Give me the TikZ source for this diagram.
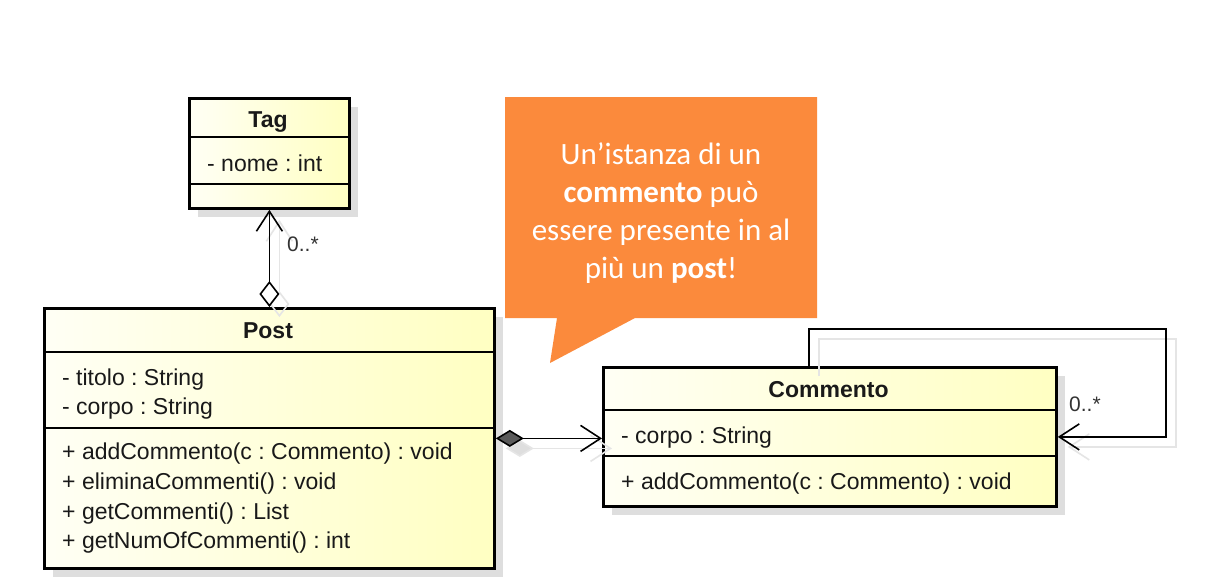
\documentclass[tikz,border=0pt]{standalone}
\usepackage{fontspec}
\setmainfont{Liberation Sans}
\newfontfamily\calloutfont{Carlito}
\usetikzlibrary{arrows.meta}
\definecolor{callorange}{HTML}{FB8A3C}
\definecolor{shadowgray}{HTML}{DEDEDE}
\definecolor{diamgray}{HTML}{5A5A5A}
\frenchspacing
\begin{document}
\begin{tikzpicture}[x=1pt,y=-1pt,
  umlbox/.style={draw=black, line width=2.8pt, left color=yellow!4, right color=yellow!24, inner sep=0pt, anchor=north west},
  boxshadow/.style={fill=shadowgray},
  divider/.style={line width=1.3pt},
  txt/.style={font=\frenchspacing\fontsize{23}{28}\selectfont, inner sep=0pt, anchor=base west, text=black!90},
  ttl/.style={font=\bfseries\fontsize{23}{28}\selectfont, inner sep=0pt, anchor=base, text=black!90},
  mult/.style={font=\fontsize{21}{25}\selectfont, inner sep=0pt, anchor=base west, text=black!80},
  conn/.style={line width=1.6pt},
  connshadow/.style={line width=1.6pt, draw=shadowgray!80, transform canvas={shift={(10pt,-10pt)}}},
  barbtip/.style={-{Straight Barb[length=20pt,width=26pt]}},
  cltxt/.style={font=\calloutfont\fontsize{31}{38}\selectfont, text=white, inner sep=0pt, anchor=base},
]
\useasboundingbox (0,0) rectangle (1208,584);
\fill[white] (0,0) rectangle (1208,584);

% box shadows
\fill[boxshadow] (198,107) rectangle (358,217);
\fill[boxshadow] (53,317) rectangle (503,577);
\fill[boxshadow] (612,376) rectangle (1065,515);

% boxes
\node[umlbox, minimum width=160pt, minimum height=110pt] (tag) at (188,97) {};
\node[umlbox, minimum width=450pt, minimum height=260pt] (post) at (43,307) {};
\node[umlbox, minimum width=453pt, minimum height=139pt] (commento) at (602,366) {};

% dividers
\draw[divider] (188,137) -- (348,137);
\draw[divider] (188,184) -- (348,184);
\draw[divider] (43,352) -- (493,352);
\draw[divider] (43,428) -- (493,428);
\draw[divider] (602,410) -- (1055,410);
\draw[divider] (602,456) -- (1055,456);

% texts
\node[ttl] (tagname) at (268,127) {Tag};
\node[txt] (tagattr) at (207,171) {- nome : int};

\node[ttl] (postname) at (268,338) {Post};
\node[txt] (pa1) at (62,385) {- titolo : String};
\node[txt] (pa2) at (62,414) {- corpo : String};
\node[txt] (pm1) at (62,459) {+ addCommento(c : Commento) : void};
\node[txt] (pm2) at (62,489) {+ eliminaCommenti() : void};
\node[txt] (pm3) at (62,519) {+ getCommenti() : List};
\node[txt] (pm4) at (62,548) {+ getNumOfCommenti() : int};

\node[ttl] (comname) at (828.5,397) {Commento};
\node[txt] (ca1) at (621,443) {- corpo : String};
\node[txt] (cm1) at (621,489) {+ addCommento(c : Commento) : void};

% loop coordinates
\coordinate (lpa) at (809,329);
\coordinate (lpb) at (1166,329);

% connector shadows
\draw[connshadow, {Diamond[open,length=26pt,width=20pt]}-{Straight Barb[length=20pt,width=26pt]}] (post.north) -- (post.north |- tag.south);
\draw[connshadow, {Diamond[length=28pt,width=17pt,fill=shadowgray]}-{Straight Barb[length=20pt,width=26pt]}] (post.east) -- (post.east -| commento.west);
\draw[connshadow, barbtip] (commento.north -| lpa) -- (lpa) -- (lpb) -- (lpb |- commento.east) -- (commento.east);

% connectors
\draw[conn, {Diamond[open,length=26pt,width=20pt]}-{Straight Barb[length=20pt,width=26pt]}] (post.north) -- (post.north |- tag.south);
\draw[conn, {Diamond[length=28pt,width=17pt,fill=diamgray]}-{Straight Barb[length=20pt,width=26pt]}] (post.east) -- (post.east -| commento.west);
\draw[conn, barbtip] (commento.north -| lpa) -- (lpa) -- (lpb) -- (lpb |- commento.east) -- (commento.east);

\node[mult] (m1) at (287,251) {0..*};
\node[mult] (m2) at (1069,411) {0..*};

% callout
\fill[callorange] (505,97) -- (817,97) -- (817,318) -- (635,318) -- (550,363) -- (557,318) -- (505,318) -- cycle;
\node[cltxt] (cl1) at (661,164) {Un’istanza di un};
\node[cltxt] (cl2) at (661,202) {\textbf{commento} può};
\node[cltxt] (cl3) at (661,240) {essere presente in al};
\node[cltxt] (cl4) at (661,278) {più un \textbf{post}!};
\end{tikzpicture}
\end{document}
